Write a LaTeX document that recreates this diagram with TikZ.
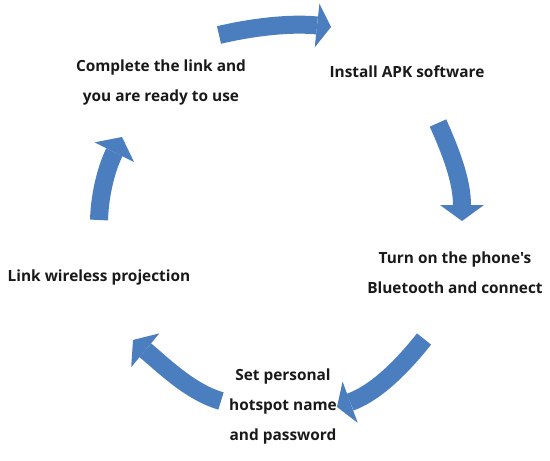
\documentclass[tikz,border=0pt]{standalone}
\usepackage{fontspec}
\newfontfamily\lbl[Ligatures=TeXOff]{Open Sans}
\usetikzlibrary{arrows.meta}
\definecolor{cyc}{RGB}{74,126,190}
\tikzset{
  cycarrow/.style={draw=cyc, line width=18pt, line cap=butt,
    -{Triangle[length=#1, width=44pt, line width=0pt, fill=cyc]}},
  cycarrow/.default=15pt,
  lbl/.style={font=\lbl\bfseries\fontsize{15.4}{30}\selectfont, align=center, text=black!90, inner sep=0pt}
}
\begin{document}
\begin{tikzpicture}[x=1pt,y=-1pt]
\useasboundingbox (0,0) rectangle (550,461);
% text nodes
\node[lbl] (s1) at (407,72) {Install APK software};
\node[lbl] (s2) at (455,273) {Turn on the phone's\\Bluetooth and connect};
\node[lbl] (s3) at (283,406) {Set personal\\hotspot name\\and password};
\node[lbl] (s4) at (99,277) {Link wireless projection};
\node[lbl] (s5) at (161,82) {Complete the link and\\you are ready to use};
% arrow end points
\coordinate (a1s) at (219,35);  \coordinate (a1e) at (331,27);
\coordinate (a2s) at (438,123); \coordinate (a2e) at (462,221);
\coordinate (a3s) at (424,339); \coordinate (a3e) at (337,407);
\coordinate (a4s) at (221,401); \coordinate (a4e) at (133,340);
\coordinate (a5s) at (99,220);  \coordinate (a5e) at (122,137);
\draw[cycarrow=14pt] (a1s) .. controls (257,26) and (294,23) .. (a1e);
\draw[cycarrow=16pt] (a2s) .. controls (450,150) and (462,180) .. (a2e);
\draw[cycarrow=14pt] (a3s) .. controls (405,363) and (378,392) .. (a3e);
\draw[cycarrow=16pt] (a4s) .. controls (190,392) and (163,365) .. (a4e);
\draw[cycarrow=17pt] (a5s) .. controls (100,190) and (108,165) .. (a5e);
\end{tikzpicture}
\end{document}
